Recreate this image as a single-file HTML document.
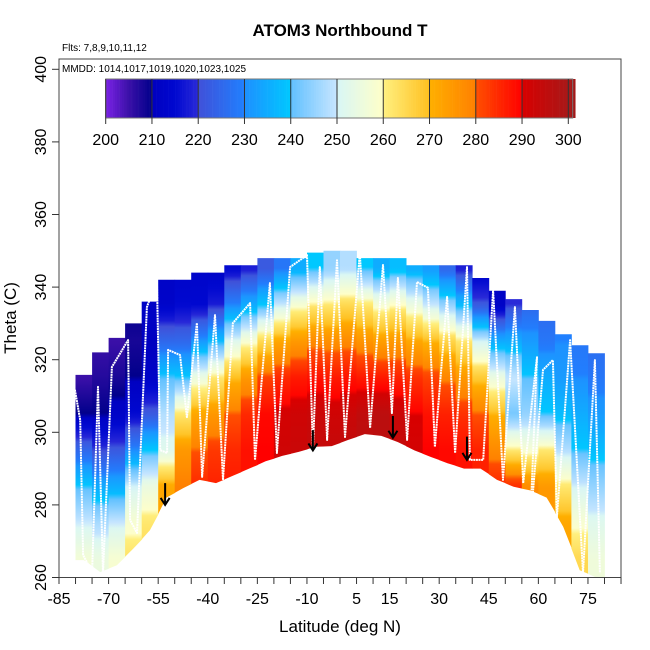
<!DOCTYPE html>
<html><head><meta charset="utf-8"><style>
body{margin:0;background:#fff}
svg{display:block}
text{font-family:"Liberation Sans",Arial,sans-serif}
</style></head><body>
<svg id="chart" width="650" height="650" viewBox="0 0 650 650" xmlns="http://www.w3.org/2000/svg">
<defs id="defs"></defs>
<text x="340" y="36" text-anchor="middle" font-size="17" font-weight="bold">ATOM3 Northbound T</text>
<text x="62" y="51" font-size="10">Flts: 7,8,9,10,11,12</text>
<g id="heat"></g>
<g id="track"></g>
<g id="arrows"></g>
<rect x="59" y="59" width="562" height="518.5" fill="none" stroke="#444" stroke-width="1"/>
<text x="62" y="72" font-size="10">MMDD: 1014,1017,1019,1020,1023,1025</text>
<g id="cbar"></g>
<g id="axes"></g>
<text x="340" y="632" text-anchor="middle" font-size="17">Latitude (deg N)</text>
<text transform="translate(16,318) rotate(-90)" text-anchor="middle" font-size="17">Theta (C)</text>
</svg>
<script>
// ---- data ----
const colLats = [-77.5,-72.5,-67.5,-62.5,-57.5,-52.5,-47.5,-42.5,-37.5,-32.5,-27.5,-22.5,-17.5,-12.5,-7.5,-2.5,2.5,7.5,12.5,17.5,22.5,27.5,32.5,37.5,42.5,47.5,52.5,57.5,62.5,67.5,72.5,77.5];
const topTheta = [315.8,322,326,330,336,342,342,344,344,346,346,348,348,348,349.5,350,350,348,348,348,346,346,346,346,342.5,339,336.7,333.7,330.7,327,324,321.8];
const bottomTheta = [264.8,261.5,263.4,268,273,282,284.6,286.9,286,288,290,292,293.5,294.6,296,296.2,297.9,299.5,299,297.3,295,293.2,291.5,290,290,286.9,285,284,282,274,262,260];
const thetaLevels = [265,275,285,295,305,315,325,335,345];
const tempGrid = [
[257,250,240,225,210,205,null,null,null],
[255,247,235,220,210,207,205,null,null],
[258,250,235,222,212,208,205,null,null],
[263,258,250,230,215,210,208,210,null],
[265,262,255,240,222,212,210,212,null],
[null,272,272,252,248,240,225,213,212],
[null,null,280,275,262,240,225,215,213],
[null,null,285,280,272,255,232,215,213],
[null,null,286,283,275,262,238,218,212],
[null,null,287,285,280,270,252,230,215],
[null,null,288,288,285,275,258,235,218],
[null,null,null,290,289,282,265,240,222],
[null,null,null,292,291,285,272,250,228],
[null,null,null,293,292,287,275,258,235],
[null,null,null,294,293,288,278,262,240],
[null,null,null,294,292,287,277,262,245],
[null,null,null,295,293,288,278,265,248],
[null,null,null,296,295,287,276,262,240],
[null,null,null,296,296,287,274,258,235],
[null,null,null,294,293,286,275,260,238],
[null,null,null,291,290,284,272,255,235],
[null,null,null,290,288,282,270,250,232],
[null,null,null,289,286,279,266,245,225],
[null,null,null,288,284,275,262,238,218],
[null,null,null,286,280,268,250,222,212],
[null,null,285,278,270,255,235,212,null],
[null,null,285,262,242,250,235,220,null],
[null,null,278,258,245,240,232,225,null],
[null,275,275,262,240,235,228,225,null],
[null,272,262,248,238,232,230,null,null],
[265,258,250,240,235,230,228,null,null],
[256,252,245,238,232,228,226,null,null]];
const trackLat = [-80.2,-78.6,-77.7,-75.0,-73.2,-71.7,-69.0,-64.1,-63.5,-61.4,-58.4,-55.4,-54.4,-52.3,-52.0,-48.4,-46.3,-43.3,-41.7,-37.8,-35.4,-32.4,-27.2,-25.7,-21.2,-19.1,-15.1,-10.0,-8.2,-6.1,-3.9,-0.9,1.5,6.0,9.1,13.0,15.7,17.5,20.3,23.3,26.6,28.7,32.4,34.8,38.4,39.3,43.3,46.3,49.3,52.9,55.4,59.6,57.5,61.4,64.4,65.6,69.6,73.5,77.1,78.6];
const trackTheta = [311.7,303.4,266.2,261.5,312.5,261.2,318.0,325.4,275.8,272.3,334.5,342.0,295.1,294.3,322.7,321.3,304.2,330.1,287.7,332.3,286.9,330.1,335.6,292.4,341.1,294.3,345.5,348.8,295.1,345.5,297.9,347.4,298.7,349.4,301.2,346.1,305.3,342.5,297.9,341.4,339.8,296.0,337.3,294.3,345.5,292.4,292.4,339.2,286.9,334.5,286.0,320.7,273.9,317.2,319.9,276.7,325.4,261.2,319.9,261.2];
const arrowLat = [-52.9,-8.2,16.0,38.4];
const arrowTop = [286,300.6,304.5,298.8];
const arrowBottom = [280,295,298.5,292.4];
const xTicks = [-85,-80,-75,-70,-65,-60,-55,-50,-45,-40,-35,-30,-25,-20,-15,-10,-5,0,5,10,15,20,25,30,35,40,45,50,55,60,65,70,75,80,85];
const xLabels = [-85,-70,-55,-40,-25,-10,5,15,30,45,60,75];
const yTicks = [260,280,300,320,340,360,380,400];
const cbarTicks = [200,210,220,230,240,250,260,270,280,290,300];

// ---- scales ----
const NS='http://www.w3.org/2000/svg';
const X = lat => 59 + (lat + 85) * 3.306;
const Y = th => 577.5 - (th - 260) * 3.63;
const CB = t => 105.7 + (t - 200) * 4.626;
const stops = [[200,'#7b22e6'],[205,'#3b10a8'],[210,'#00008b'],[210.01,'#0000c0'],[215,'#0008d0'],[220,'#2a2ad8'],[220.01,'#4050d8'],[230,'#2080ff'],[230.01,'#1e90ff'],[240,'#00c8ff'],[240.01,'#60c0ff'],[250,'#c8e6ff'],[250.01,'#d8f6f6'],[260,'#ffffc8'],[260.01,'#fff080'],[270,'#ffc020'],[270.01,'#ffb000'],[280,'#ff8000'],[280.01,'#ff5000'],[290,'#ff0000'],[290.01,'#d80000'],[300,'#a81818'],[302,'#a01818']];
function hex(h){return [1,3,5].map(i=>parseInt(h.substr(i,2),16));}
function cmap(t){
  if(t<=stops[0][0]) return stops[0][1];
  for(let i=1;i<stops.length;i++){
    if(t<=stops[i][0]){
      const a=stops[i-1],b=stops[i],f=(t-a[0])/(b[0]-a[0]);
      const ca=hex(a[1]),cb=hex(b[1]);
      return 'rgb('+ca.map((v,k)=>Math.round(v+(cb[k]-v)*f)).join(',')+')';
    }
  }
  return stops[stops.length-1][1];
}
function el(tag,attrs,parent){const e=document.createElementNS(NS,tag);for(const k in attrs)e.setAttribute(k,attrs[k]);parent.appendChild(e);return e;}
const defs=document.getElementById('defs');

// ---- heatmap ----
const heat=document.getElementById('heat');
colLats.forEach((lat,i)=>{
  const row=tempGrid[i];
  const pts=[];
  thetaLevels.forEach((th,j)=>{if(row[j]!==null)pts.push([th,row[j]]);});
  const yTop=Y(topTheta[i]);
  const bL = i>0 ? (bottomTheta[i-1]+bottomTheta[i])/2 : bottomTheta[i];
  const bR = i<colLats.length-1 ? (bottomTheta[i+1]+bottomTheta[i])/2 : bottomTheta[i];
  const bMin=Math.min(bL,bR,bottomTheta[i]);
  const yBot=Y(bMin);
  const g=el('linearGradient',{id:'g'+i,gradientUnits:'userSpaceOnUse',x1:0,x2:0,y1:yBot,y2:yTop},defs);
  const n=40;
  for(let s=0;s<=n;s++){
    const th=bMin+(topTheta[i]-bMin)*s/n;
    let t;
    if(th<=pts[0][0]) t=pts[0][1];
    else if(th>=pts[pts.length-1][0]) t=pts[pts.length-1][1];
    else{for(let k=1;k<pts.length;k++){if(th<=pts[k][0]){const f=(th-pts[k-1][0])/(pts[k][0]-pts[k-1][0]);t=pts[k-1][1]+(pts[k][1]-pts[k-1][1])*f;break;}}}
    el('stop',{offset:(s/n).toFixed(3),'stop-color':cmap(t)},g);
  }
  const x0=X(lat-2.5), x1=X(lat+2.5)+0.4, xc=X(lat);
  const d=`M${x0.toFixed(1)},${yTop.toFixed(1)} L${x1.toFixed(1)},${yTop.toFixed(1)} L${x1.toFixed(1)},${Y(bR).toFixed(1)} L${xc.toFixed(1)},${Y(bottomTheta[i]).toFixed(1)} L${x0.toFixed(1)},${Y(bL).toFixed(1)} Z`;
  const r=el('path',{d:d,fill:'url(#g'+i+')'},heat);
  
  
});

// ---- track ----
const track=document.getElementById('track');
const tl=el('polyline',{points:trackLat.map((l,i)=>X(l).toFixed(1)+','+Y(trackTheta[i]).toFixed(1)).join(' '),fill:'none',stroke:'#fff','stroke-width':2,'stroke-dasharray':'2 0.6','stroke-linejoin':'round'},track);



// ---- arrows ----
const arr=document.getElementById('arrows');
arrowLat.forEach((lat,i)=>{
  const x=X(lat),y1=Y(arrowTop[i]),y2=Y(arrowBottom[i]);
  const p=el('path',{d:`M${x},${y1} L${x},${y2} M${x-4.5},${y2-7} L${x},${y2} L${x+4.5},${y2-7}`,stroke:'#000','stroke-width':2,fill:'none'},arr);
  
  
});

// ---- axes ----
const axes=document.getElementById('axes');
xTicks.forEach(v=>{
  const t=el('line',{x1:X(v),x2:X(v),y1:577.5,y2:584,stroke:'#333'},axes);
  
  
});
xLabels.forEach(v=>{
  const t=el('text',{x:X(v),y:604,'text-anchor':'middle','font-size':16},axes);
  t.textContent=v;
  
  
});
yTicks.forEach(v=>{
  const t=el('line',{x1:52,x2:59,y1:Y(v),y2:Y(v),stroke:'#333'},axes);
  
  
  const l=el('text',{transform:`translate(46,${Y(v)}) rotate(-90)`,'text-anchor':'middle','font-size':16},axes);
  l.textContent=v;
  
  
});

// ---- colorbar ----
const cb=document.getElementById('cbar');
for(let t=200;t<301.2;t+=0.5){
  el('rect',{x:CB(t).toFixed(2),y:79,width:2.6,height:39,fill:cmap(t+0.25)},cb);
}
el('rect',{x:105.7,y:79,width:467,height:39,fill:'none',stroke:'#777','stroke-width':1},cb);
cbarTicks.forEach(v=>{
  const d=el('line',{x1:CB(v),x2:CB(v),y1:79,y2:124,stroke:'#333','stroke-width':1},cb);
  
  
  const l=el('text',{x:CB(v),y:145,'text-anchor':'middle','font-size':16},cb);
  l.textContent=v;
  
  
});
</script>
</body></html>
